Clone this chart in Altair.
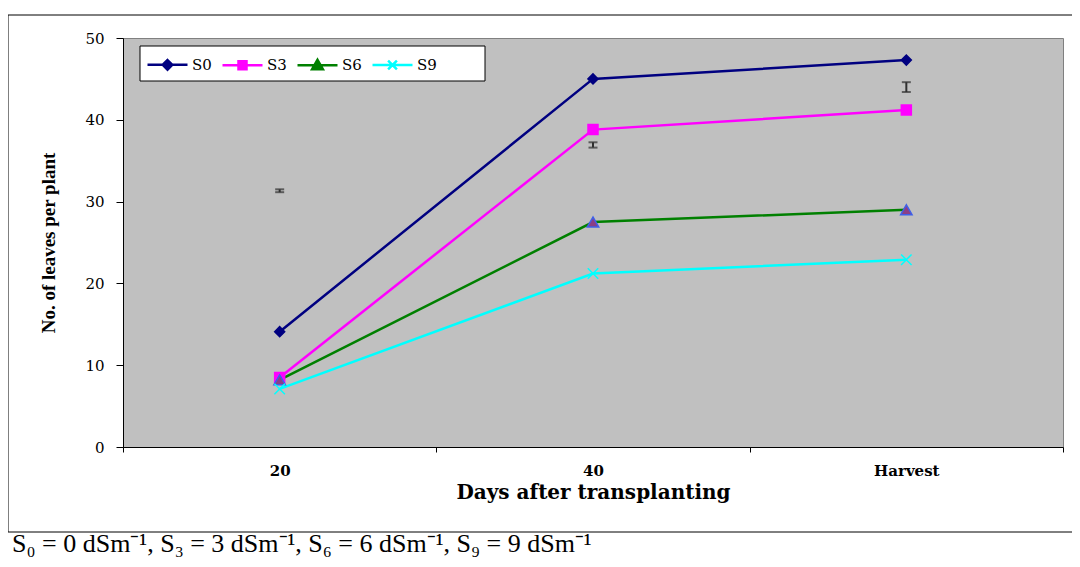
import altair as alt
import pandas as pd

# ---- data ----
STAGES = ["20", "40", "Harvest"]
SERIES = ["S0", "S3", "S6", "S9"]
S0 = [14.1, 45.0, 47.3]
S3 = [8.5, 38.8, 41.2]
S6 = [8.2, 27.5, 29.0]
S9 = [7.1, 21.2, 22.9]
ERR_LO = [31.15, 36.6, 43.4]
ERR_HI = [31.5, 37.25, 44.6]
Y_TICKS = [0, 10, 20, 30, 40, 50]
FOOTNOTE = "S\u2080 = 0 dSm\u207b\u00b9, S\u2083 = 3 dSm\u207b\u00b9, S\u2086 = 6 dSm\u207b\u00b9, S\u2089 = 9 dSm\u207b\u00b9"

# ---- styles ----
LINE_COLORS = ["#000080", "#FF00FF", "#008000", "#00FFFF"]
MARK_FILL = ["#000080", "#FF00FF", "#8B3F86", "#00FFFF"]
MARK_STROKE = ["#000080", "#FF00FF", "#3F5FE8", "#00FFFF"]
MARK_SHAPE = ["diamond", "square", "triangle-up", "M-1,-1L1,1M-1,1L1,-1"]
MARK_SIZE = [100, 100, 130, 110]
# legend symbols: line segment + marker (solid look built from nested outlines)
LEG_SHAPE = [
    "M-1,0H1M0,-0.24L0.24,0L0,0.24L-0.24,0ZM0,-0.16L0.16,0L0,0.16L-0.16,0Z"
    "M0,-0.08L0.08,0L0,0.08L-0.08,0Z",
    "M-1,0H1M-0.2,-0.2H0.2V0.2H-0.2ZM-0.12,-0.12H0.12V0.12H-0.12Z"
    "M-0.04,-0.04H0.04V0.04H-0.04Z",
    "M-1,0H1M0,-0.27L0.27,0.2L-0.27,0.2ZM0,-0.145L0.162,0.137L-0.162,0.137Z"
    "M0,-0.035L0.068,0.082L-0.068,0.082Z",
    "M-1,0H1M-0.22,-0.22L0.22,0.22M-0.22,0.22L0.22,-0.22",
]
LEG_FILL = ["#000080", "#FF00FF", "#8B3F86", "#00FFFF"]
LEG_STROKE = ["#000080", "#FF00FF", "#008000", "#00FFFF"]

rows = []
for name, vals in zip(SERIES, [S0, S3, S6, S9]):
    for st, v in zip(STAGES, vals):
        rows.append({"Stage": st, "Series": name, "Value": v})
df = pd.DataFrame(rows)
err = pd.DataFrame({"Stage": STAGES, "lo": ERR_LO, "hi": ERR_HI})

x_enc = alt.X(
    "Stage:N",
    sort=STAGES,
    scale=alt.Scale(domain=STAGES, paddingInner=0, paddingOuter=0),
    axis=alt.Axis(
        title="Days after transplanting",
        labelAngle=0,
        tickBand="extent",
        tickSize=5,
        labelPadding=11,
        titlePadding=4,
        labelFont="DejaVu Serif",
        labelFontWeight="bold",
        labelFontSize=15,
        titleFont="DejaVu Serif",
        titleFontWeight="bold",
        titleFontSize=20,
        domainColor="black",
        tickColor="black",
        labelColor="black",
        titleColor="black",
    ),
)
y_scale = alt.Scale(domain=[0, 50], nice=False)
y_enc = alt.Y(
    "Value:Q",
    scale=y_scale,
    axis=alt.Axis(
        title="No. of leaves per plant",
        values=Y_TICKS,
        grid=False,
        tickSize=7,
        labelPadding=12,
        titlePadding=26,
        labelFont="DejaVu Serif",
        labelFontSize=15,
        titleFont="Liberation Serif",
        titleFontWeight="bold",
        titleFontSize=19,
        domainColor="black",
        tickColor="black",
        labelColor="black",
        titleColor="black",
    ),
)

base = alt.Chart(df)

frame = alt.Chart(pd.DataFrame({"a": [0]})).mark_rect(
    fillOpacity=0, stroke="black", strokeWidth=1
).encode(x=alt.value(-115), x2=alt.value(962), y=alt.value(-23), y2=alt.value(494))

lines = base.mark_line(strokeWidth=2.5).encode(
    x=x_enc,
    y=y_enc,
    color=alt.Color("Series:N", scale=alt.Scale(domain=SERIES, range=LINE_COLORS), legend=None),
)

point_layers = []
for i, name in enumerate(SERIES):
    point_layers.append(
        base.transform_filter(alt.datum.Series == name)
        .mark_point(
            shape=MARK_SHAPE[i],
            filled=(i != 3),
            fill=MARK_FILL[i],
            stroke=MARK_STROKE[i],
            strokeWidth=1.5,
            size=MARK_SIZE[i],
            opacity=1,
        )
        .encode(x=alt.X("Stage:N", sort=STAGES), y=alt.Y("Value:Q"))
    )

legend_layer = base.mark_point(filled=True, opacity=0, size=10).encode(
    x=alt.X("Stage:N", sort=STAGES),
    y=alt.Y("Value:Q"),
    fill=alt.Fill(
        "Series:N",
        scale=alt.Scale(domain=SERIES, range=LEG_FILL),
        legend=alt.Legend(
            title=None,
            orient="none",
            direction="horizontal",
            columns=4,
            legendX=23,
            legendY=5,
            padding=0,
            symbolSize=1600,
            symbolStrokeWidth=2.5,
            symbolOpacity=1,
            labelFont="DejaVu Serif",
            labelFontSize=15,
            labelColor="black",
            labelOffset=3,
            columnPadding=5,
            zindex=2,
        ),
    ),
    stroke=alt.Stroke("Series:N", scale=alt.Scale(domain=SERIES, range=LEG_STROKE)),
    shape=alt.Shape("Series:N", scale=alt.Scale(domain=SERIES, range=LEG_SHAPE)),
)

legend_box = alt.Chart(pd.DataFrame({"a": [0]})).mark_rect(
    fill="white", stroke="black", strokeWidth=1
).encode(x=alt.value(17), x2=alt.value(362), y=alt.value(8), y2=alt.value(43))

err_base = alt.Chart(err)
err_rule = err_base.mark_rule(color="#303030", strokeWidth=2).encode(
    x=alt.X("Stage:N", sort=STAGES), y=alt.Y("lo:Q"), y2="hi:Q"
)
err_lo = err_base.mark_tick(color="#303030", size=9, thickness=2).encode(
    x=alt.X("Stage:N", sort=STAGES), y=alt.Y("lo:Q")
)
err_hi = err_base.mark_tick(color="#303030", size=9, thickness=2).encode(
    x=alt.X("Stage:N", sort=STAGES), y=alt.Y("hi:Q")
)

foot = alt.Chart(pd.DataFrame({"t": [FOOTNOTE]})).mark_text(
    align="left", baseline="alphabetic", font="Liberation Serif", fontSize=26, color="black"
).encode(x=alt.value(-111), y=alt.value(514), text="t:N")

chart = (
    alt.layer(frame, lines, *point_layers, legend_layer, legend_box, err_rule, err_lo, err_hi, foot)
    .resolve_scale(fill="independent", stroke="independent", shape="independent")
    .properties(
        width=940,
        height=409,
        padding={"left": 115, "top": 30, "right": 9, "bottom": 112},
        autosize=alt.AutoSizeParams(type="none"),
        background="white",
    )
    .configure_view(fill="#C0C0C0", stroke="#808080", strokeWidth=1)
)

chart.save("out.html", embed_options={"renderer": "svg", "actions": False})
